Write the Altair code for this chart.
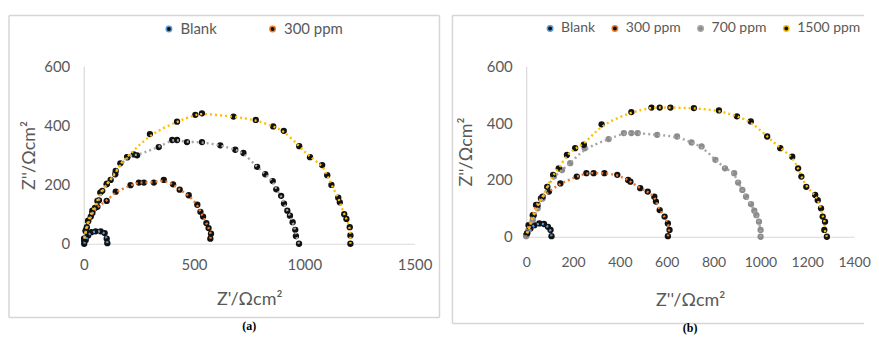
import altair as alt
import pandas as pd

SERIES = ["Blank", "300 ppm", "700 ppm", "1500 ppm"]
LINE_COLORS = ["#5b9bd5", "#ed7d31", "#a5a5a5", "#ffc000"]

# ---------- panel (a) ----------
a_blank_x = [107, 104, 95, 77, 54, 35, 20, 9, 2]
a_blank_y = [2, 17, 36, 42, 42, 39, 28, 13, 0]
a_300_x = [574, 577, 566, 556, 541, 529, 515, 476, 435, 405, 363, 318, 273, 250, 212, 145, 104, 62, 39, 20, 9, 2]
a_300_y = [17, 34, 53, 70, 92, 108, 132, 164, 183, 201, 216, 207, 207, 207, 198, 176, 145, 125, 104, 76, 42, 17]
a_700_x = [976, 962, 959, 947, 935, 923, 908, 895, 873, 857, 823, 786, 724, 687, 619, 536, 468, 423, 401, 340, 242, 227, 197, 145, 122, 104, 84, 69, 51, 32, 14, 2]
a_700_y = [0, 26, 47, 73, 95, 112, 136, 162, 184, 212, 235, 260, 307, 318, 333, 344, 344, 351, 351, 327, 299, 302, 293, 246, 216, 201, 179, 147, 121, 92, 56, 17]
a_1500_x = [1209, 1209, 1206, 1191, 1181, 1161, 1154, 1123, 1104, 1081, 1026, 977, 907, 859, 780, 679, 536, 506, 423, 300, 197, 166, 143, 105, 75, 62, 39, 20, 9, 2]
a_1500_y = [0, 28, 56, 84, 100, 140, 156, 199, 232, 266, 293, 330, 382, 397, 419, 430, 441, 436, 413, 371, 293, 272, 235, 203, 173, 145, 112, 78, 45, 11]

# ---------- panel (b) ----------
b_blank_x = [108, 104, 93, 76, 56, 35, 18, 4]
b_blank_y = [2, 24, 35, 45, 47, 41, 29, 12]
b_300_x = [605, 612, 605, 591, 570, 554, 547, 519, 487, 445, 435, 389, 334, 288, 257, 216, 146, 97, 63, 42, 28, 10, 0]
b_300_y = [2, 24, 47, 71, 94, 124, 141, 159, 171, 194, 200, 218, 224, 224, 224, 212, 188, 159, 135, 112, 76, 41, 6]
b_700_x = [1001, 1001, 994, 983, 974, 960, 939, 923, 905, 888, 849, 808, 749, 706, 644, 559, 476, 449, 417, 352, 250, 188, 153, 118, 90, 70, 49, 28, 10, 0]
b_700_y = [0, 24, 53, 76, 92, 115, 141, 165, 191, 224, 241, 271, 318, 332, 353, 359, 365, 365, 365, 344, 312, 259, 235, 212, 176, 135, 100, 59, 24, 2]
b_1500_x = [1284, 1273, 1276, 1266, 1259, 1245, 1234, 1196, 1175, 1161, 1136, 1085, 1029, 959, 900, 823, 716, 616, 570, 535, 449, 322, 246, 209, 174, 139, 115, 90, 70, 49, 32, 14, 4]
b_1500_y = [0, 24, 53, 71, 100, 129, 147, 176, 212, 241, 282, 312, 353, 406, 424, 445, 453, 455, 455, 455, 439, 396, 324, 312, 288, 241, 218, 176, 141, 112, 76, 35, 12]

a_x_ticks = [0, 500, 1000, 1500]
b_x_ticks = [0, 200, 400, 600, 800, 1000, 1200, 1400]
y_ticks = [0, 200, 400, 600]


def frame_df(pairs):
    rows = []
    for name, (xs, ys) in zip(SERIES, pairs):
        for i, (x, y) in enumerate(zip(xs, ys)):
            rows.append({"series": name, "zr": x, "zi": y, "idx": i})
    return pd.DataFrame(rows)


df_a = frame_df([(a_blank_x, a_blank_y), (a_300_x, a_300_y), (a_700_x, a_700_y), (a_1500_x, a_1500_y)])
df_b = frame_df([(b_blank_x, b_blank_y), (b_300_x, b_300_y), (b_700_x, b_700_y), (b_1500_x, b_1500_y)])

FONT = "Lato"
GREY = "#595959"
FRAME = "#d6d6d6"
one = pd.DataFrame({"k": [0]})


def hrule(x1, x2, y):
    return alt.Chart(one).mark_rule(color=FRAME, strokeWidth=1.5).encode(
        x=alt.value(x1), x2=alt.value(x2), y=alt.value(y))


def vrule(x, y1, y2):
    return alt.Chart(one).mark_rule(color=FRAME, strokeWidth=1.5).encode(
        x=alt.value(x), y=alt.value(y1), y2=alt.value(y2))


def panel(df, w, h, xdom, xticks, xtitle, point_fill, legend_values, legend_x, legend_pad, leg_size,
          fl, fr, ft, fb, right_border, caption, cap_y, ytp, lab_size, xlp, xtp):
    xscale = alt.Scale(domain=xdom, nice=False, zero=True)
    yscale = alt.Scale(domain=[0, 600], nice=False)
    xaxis = alt.Axis(values=xticks, title=xtitle, labelFlush=False, format="d", labelFontSize=lab_size,
                     labelPadding=xlp, titlePadding=xtp)
    yaxis = alt.Axis(values=y_ticks, title="Z''/Ωcm²", format="d", titlePadding=ytp, labelFlush=False)
    base = alt.Chart(df)
    pts = base.mark_circle(size=40, opacity=1).encode(
        x=alt.X("zr:Q", scale=xscale, axis=xaxis),
        y=alt.Y("zi:Q", scale=yscale, axis=yaxis),
        fill=alt.Fill("series:N", scale=alt.Scale(domain=SERIES, range=point_fill),
                      legend=alt.Legend(values=legend_values, orient="none", direction="horizontal",
                                        legendX=legend_x, legendY=-45, title=None,
                                        symbolType="circle", symbolSize=30, gridAlign="none",
                                        columnPadding=legend_pad, labelFont=FONT,
                                        labelFontSize=leg_size, labelColor=GREY)),
    )
    lines = base.mark_line(strokeDash=[2, 3], strokeWidth=2.4, interpolate="basis").encode(
        x="zr:Q",
        y="zi:Q",
        color=alt.Color("series:N", scale=alt.Scale(domain=SERIES, range=LINE_COLORS), legend=None),
        order="idx:Q",
    )
    frames = [hrule(fl, w + fr, ft), hrule(fl, w + fr, h + fb), vrule(fl, ft, h + fb)]
    if right_border:
        frames.append(vrule(w + fr, ft, h + fb))
    cap = alt.Chart(pd.DataFrame({"t": [caption]})).mark_text(
        font="Liberation Serif", fontWeight="bold", fontSize=12, color="#000000"
    ).encode(x=alt.value(w / 2), y=alt.value(cap_y), text="t:N")
    return alt.layer(*frames, pts, lines, cap).properties(width=w, height=h)


pa = panel(df_a, 332, 178, [0, 1500], a_x_ticks, "Z'/Ωcm²",
           ["#111111", "#111111", "#111111", "#111111"], ["Blank", "300 ppm"], 78, 48, 15,
           -75, 25, -51, 74, True, "(a)", 261, 5, 15, 14, 18)
pb = panel(df_b, 329, 171, [0, 1400], b_x_ticks, "Z''/Ωcm²",
           ["#111111", "#111111", "#8c8c8c", "#111111"], SERIES, 17, 12, 14,
           -74, 10, -51, 87, False, "(b)", 263, 11, 14, 19, 22)

chart = alt.hconcat(pa, pb, spacing=11).resolve_scale(
    fill="independent", color="independent", x="independent", y="independent"
).resolve_legend(fill="independent").properties(
    padding={"left": 0, "top": 6, "right": 0, "bottom": 0}
).configure_view(stroke=None).configure_axis(
    grid=False, ticks=False, domainColor="#d9d9d9", domainWidth=1.2,
    labelFont=FONT, labelFontSize=15, labelColor=GREY, labelPadding=14,
    titleFont=FONT, titleFontSize=18, titleColor=GREY, titleFontWeight="normal", titlePadding=14,
)

chart.save("out.html", embed_options={"renderer": "svg", "actions": False})
